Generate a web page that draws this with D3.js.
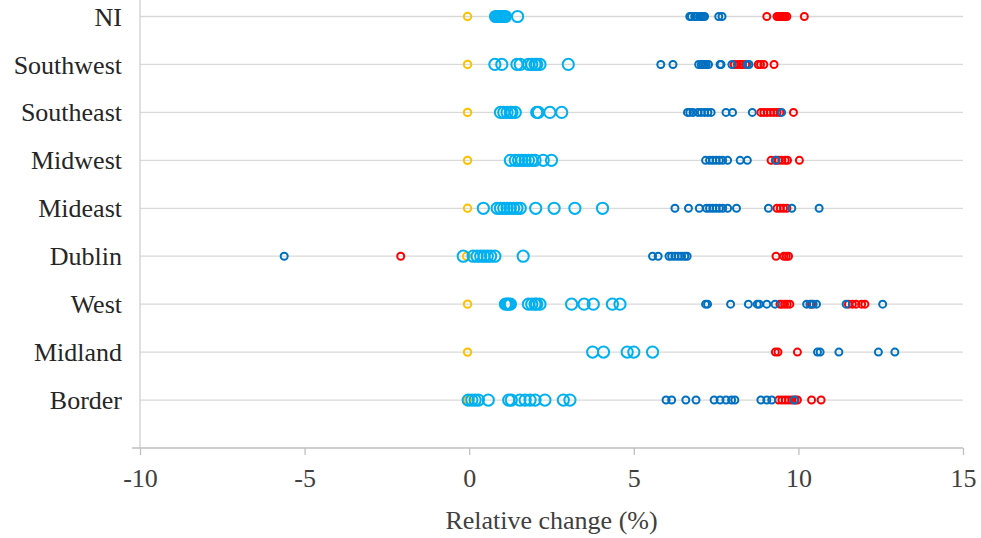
<!DOCTYPE html>
<html><head><meta charset="utf-8">
<script src="https://cdn.jsdelivr.net/npm/d3@7"></script>
<style>body{margin:0;background:#fff}svg{display:block}</style>
</head><body>
<svg id="c" width="981" height="538"></svg>
<script>
const categories = ["Border","Midland","West","Dublin","Mideast","Midwest","Southeast","Southwest","NI"];
const xTicks = [-10,-5,0,5,10,15];

const yellowVals = {
  NI:[-0.05], Southwest:[-0.05], Southeast:[-0.05], Midwest:[-0.05], Mideast:[-0.05],
  Dublin:[-0.08], West:[-0.05], Midland:[-0.05], Border:[-0.05]
};
const lightBlueVals = {
  NI:[0.8,0.85,0.9,0.95,1.0,1.05,1.1,1.47],
  Southwest:[0.78,0.99,1.45,1.55,1.8,1.9,2.0,2.05,2.15,3.01],
  Southeast:[0.95,1.05,1.15,1.25,1.3,1.4,2.05,2.1,2.45,2.81],
  Midwest:[1.25,1.4,1.5,1.6,1.7,1.8,1.9,2.0,2.25,2.5],
  Mideast:[0.43,0.85,0.95,1.05,1.15,1.25,1.35,1.45,1.55,2.02,2.58,3.21,4.05],
  Dublin:[-0.18,0.12,0.24,0.35,0.45,0.55,0.65,0.78,1.64],
  West:[1.1,1.15,1.2,1.25,1.8,1.9,2.0,2.05,2.15,3.11,3.49,3.77,4.35,4.58],
  Midland:[3.75,4.08,4.8,5.0,5.57],
  Border:[-0.03,0.08,0.18,0.28,0.58,1.2,1.28,1.54,1.7,1.85,2.0,2.3,2.86,3.06]
};
const darkBlueVals = {
  NI:[6.7,6.75,6.85,6.9,7.0,7.05,7.1,7.15,7.58,7.68],
  Southwest:[5.82,6.19,6.97,7.05,7.1,7.15,7.2,7.27,7.62,7.65,7.98,8.45,8.5],
  Southeast:[6.63,6.7,6.8,6.95,7.05,7.15,7.25,7.35,7.8,8.0,8.6,9.49],
  Midwest:[7.18,7.3,7.4,7.5,7.6,7.7,7.85,8.23,8.45,9.32],
  Mideast:[6.25,6.66,6.99,7.21,7.3,7.4,7.5,7.6,7.7,7.85,8.12,9.09,9.8,10.63],
  Dublin:[-5.62,5.57,5.74,6.07,6.15,6.25,6.35,6.45,6.55,6.62],
  West:[7.18,7.24,7.94,8.48,8.75,8.81,9.04,9.29,10.25,10.35,10.45,10.55,11.45,12.56],
  Midland:[10.58,10.66,11.23,12.43,12.93],
  Border:[5.98,6.15,6.58,6.89,7.44,7.62,7.8,7.97,8.07,8.86,9.04,9.19,9.87]
};
const redVals = {
  NI:[9.04,9.35,9.4,9.45,9.5,9.55,9.6,9.65,10.18],
  Southwest:[8.05,8.15,8.25,8.3,8.4,8.78,8.85,8.95,9.26],
  Southeast:[8.86,8.95,9.05,9.15,9.25,9.35,9.44,9.85],
  Midwest:[9.17,9.3,9.4,9.5,9.6,9.67,10.03],
  Mideast:[9.35,9.45,9.55,9.65],
  Dublin:[-2.08,9.32,9.56,9.63,9.7],
  West:[9.44,9.5,9.58,9.66,9.74,10.4,11.52,11.64,11.75,11.92,12.02],
  Midland:[9.3,9.38,9.97],
  Border:[9.4,9.5,9.6,9.7,9.8,9.9,9.97,10.4,10.69]
};

const series = [
  {vals: yellowVals, color:"#FFC000", r:3.7},
  {vals: lightBlueVals, color:"#00B0F0", r:5.6},
  {vals: redVals, color:"#FF0000", r:3.5},
  {vals: darkBlueVals, color:"#0070C0", r:3.5}
];

const FONT = "'Liberation Serif', 'Times New Roman', serif";
const svg = d3.select("#c");
const left = 140, right = 963, bottom = 448;
const x = d3.scaleLinear().domain([-10,15]).range([left,right]);
const y = d3.scaleLinear().domain([0,9]).range([bottom,16.5]);
const catY = c => y(categories.indexOf(c)+1);

// gridlines
svg.append("g").selectAll("line").data(categories).join("line")
  .attr("x1",left).attr("x2",right)
  .attr("y1",d=>catY(d)).attr("y2",d=>catY(d))
  .attr("stroke","#d9d9d9").attr("stroke-width",1.3);

// y axis line
svg.append("line").attr("x1",left).attr("x2",left).attr("y1",y(9.35)).attr("y2",bottom)
  .attr("stroke","#d0d0d0").attr("stroke-width",1.3);

// x axis
const xa = svg.append("g").attr("transform",`translate(0,${bottom})`)
  .call(d3.axisBottom(x).tickValues(xTicks).tickSize(7).tickPadding(14).tickFormat(d => String(d)));
xa.attr("font-family",FONT).attr("font-size",26);
xa.select(".domain").remove();
xa.selectAll(".tick line").attr("stroke","#bfbfbf").attr("stroke-width",1.3);
xa.selectAll(".tick text").attr("fill","#404040").style("font-family",FONT).style("font-size","26px");
svg.append("line").attr("x1",132).attr("x2",right).attr("y1",bottom).attr("y2",bottom)
  .attr("stroke","#bfbfbf").attr("stroke-width",1.3);

// category labels
svg.append("g").selectAll("text").data(categories).join("text")
  .attr("x",122).attr("y",d=>catY(d)).attr("dy","0.35em")
  .attr("text-anchor","end").attr("fill","#262626")
  .style("font-family",FONT).style("font-size","26px")
  .text(d=>d);

// axis title
svg.append("text").attr("x",(left+right)/2).attr("y",529).attr("text-anchor","middle")
  .attr("fill","#404040").style("font-family",FONT).style("font-size","26px")
  .text("Relative change (%)");

// points
series.forEach(s=>{
  const pts = [];
  categories.forEach(c=>(s.vals[c]||[]).forEach(v=>pts.push({c,v})));
  svg.append("g").selectAll("circle").data(pts).join("circle")
    .attr("cx",d=>x(d.v)).attr("cy",d=>catY(d.c)).attr("r",s.r)
    .attr("fill","none").attr("stroke",s.color).attr("stroke-width",2);
});
</script>
</body></html>
